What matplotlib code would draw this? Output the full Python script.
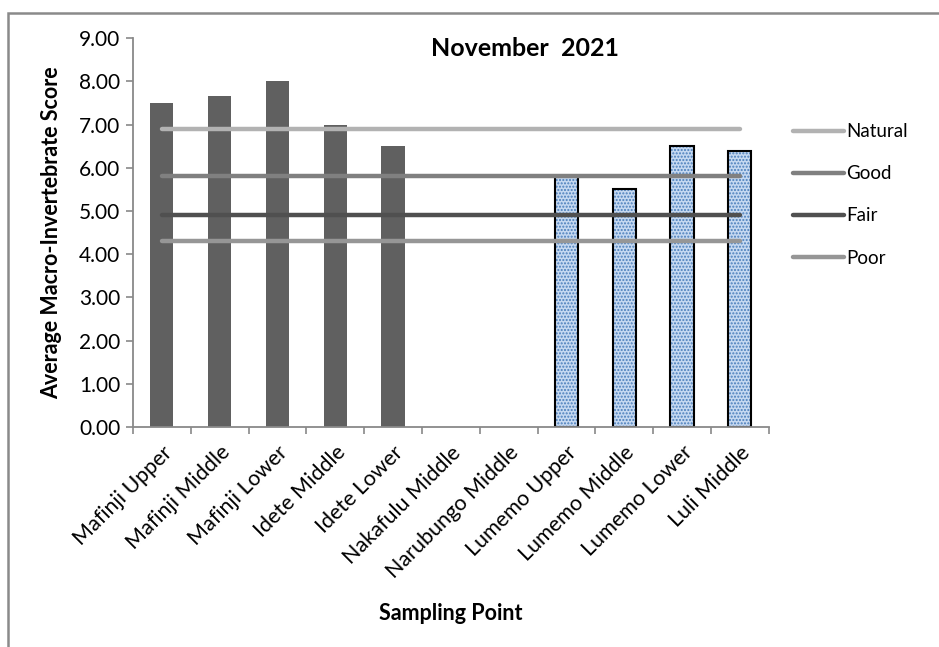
import numpy as np
import matplotlib.pyplot as plt
from matplotlib.patches import Rectangle
from matplotlib.lines import Line2D

plt.rcParams['font.family'] = ['Lato', 'DejaVu Sans']

sites = ['Mafinji Upper', 'Mafinji Middle', 'Mafinji Lower', 'Idete Middle',
         'Idete Lower', 'Nakafulu Middle', 'Narubungo Middle', 'Lumemo Upper',
         'Lumemo Middle', 'Lumemo Lower', 'Luli Middle']
score_grey = [7.5, 7.67, 8.0, 7.0, 6.5, 0, 0, 0, 0, 0, 0]
score_blue = [0, 0, 0, 0, 0, 0, 0, 5.8, 5.5, 6.5, 6.4]

classes = ['Natural', 'Good', 'Fair', 'Poor']
limits = [6.9, 5.8, 4.9, 4.3]
class_colours = ['#b2b2b2', '#808080', '#505050', '#969696']

axis_col = '#898989'

fig = plt.figure(figsize=(9.39, 6.47), dpi=100)
ax = fig.add_axes([0.1416, 0.340, 0.677, 0.601])

x = np.arange(len(sites))
w = 0.4
ax.bar(x, score_grey, w, color='#606060', zorder=2)
# blue dotted bars: hatch layer + black outline layer
blue = [v if v > 0 else np.nan for v in score_blue]
ax.bar(x, blue, w, color='#c6d9f1', edgecolor='#4a7ebb', hatch='.....',
       linewidth=0, zorder=2)
ax.bar(x, blue, w, fill=False, edgecolor='black', linewidth=1.5, zorder=2)

for name, v, c in zip(classes, limits, class_colours):
    ax.plot([x[0], x[-1]], [v, v], color=c, lw=3.2, solid_capstyle='round',
            zorder=3, label=name)

ax.set_xlim(-0.5, len(sites) - 0.5)
ax.set_ylim(0, 9)
ax.set_yticks(np.arange(0, 9.5, 1.0))
ax.set_yticklabels(['%.2f' % t for t in np.arange(0, 9.5, 1.0)], fontsize=15)
ax.set_xticks(x)
ax.set_xticklabels(sites, rotation=45, ha='right', rotation_mode='anchor',
                   fontsize=15.5)
ax.set_xticks(np.arange(-0.5, len(sites), 1.0), minor=True)
ax.tick_params(axis='x', which='major', length=0, pad=11)
ax.tick_params(axis='x', which='minor', length=5, color=axis_col, width=1.2)
ax.tick_params(axis='y', length=5, color=axis_col, width=1.2, pad=4)

for s in ['top', 'right']:
    ax.spines[s].set_visible(False)
for s in ['left', 'bottom']:
    ax.spines[s].set_color(axis_col)
    ax.spines[s].set_linewidth(1.3)

ax.set_ylabel('Average Macro-Invertebrate Score', fontsize=15.5,
              fontweight='bold', labelpad=12)
fig.text(0.48, 0.052, 'Sampling Point', ha='center', va='center',
         fontsize=15.5, fontweight='bold')
fig.text(0.559, 0.925, 'November  2021', ha='center', va='center',
         fontsize=18, fontweight='bold')

handles = [Line2D([0], [0], color=c, lw=3.2, solid_capstyle='round')
           for c in class_colours]
fig.legend(handles, classes, loc='upper left', bbox_to_anchor=(0.835, 0.824),
           frameon=False, fontsize=13.5, handlelength=2.7, handletextpad=0.1,
           labelspacing=1.34, borderpad=0)

fig.patches.append(Rectangle((8 / 939, -0.1), 1.2, 1 - 13 / 647 + 0.1,
                             transform=fig.transFigure, fill=False,
                             edgecolor='#8a8a8a', lw=1.8))

plt.savefig('out.png', dpi=100)
